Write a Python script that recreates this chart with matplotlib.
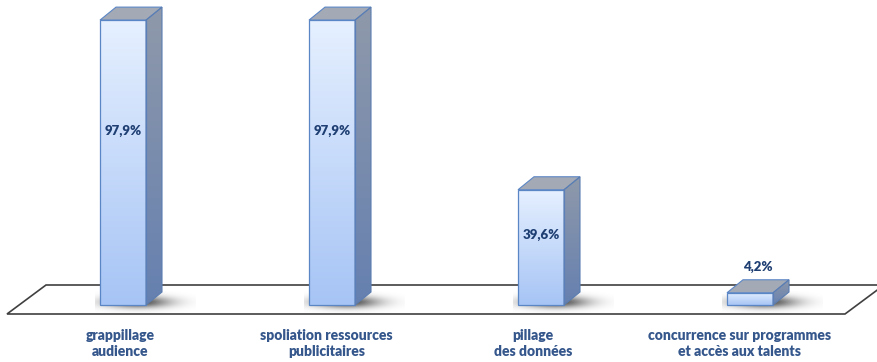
import numpy as np
import matplotlib

matplotlib.use("Agg")
import matplotlib.pyplot as plt
from matplotlib.patches import Polygon
from matplotlib.colors import LinearSegmentedColormap

categories = [
    "grappillage\naudience",
    "spoliation ressources\npublicitaires",
    "pillage\ndes données",
    "concurrence sur programmes\net accès aux talents",
]
values = [97.9, 97.9, 39.6, 4.2]
value_labels = ["97,9%", "97,9%", "39,6%", "4,2%"]

W, H = 877, 362
PX = 2.91          # pixels per percentage point
BASE = 305         # pixel row of the bar bases
BAR_W = 46         # front face width (px)
DX, DY = 16, 13 / PX   # depth offset of the 3D extrusion
TEXT = "#35578C"

front_cmap = LinearSegmentedColormap.from_list("front", ["#A6C4F5", "#E6F0FF"])
side_cmap = LinearSegmentedColormap.from_list("side", ["#6580B0", "#8F99AA"])

fig = plt.figure(figsize=(W / 100, H / 100), dpi=100)
ax = fig.add_axes([0, 0, 1, 1])
ax.set_xlim(0, W)
ax.set_ylim(-(H - BASE) / PX, BASE / PX)
ax.axis("off")

# floor plane
back_y, front_y = 20 / PX, -9 / PX
floor = Polygon([(7, front_y), (845, front_y), (884, back_y), (46, back_y)],
                closed=True, facecolor="white", edgecolor="#404040", lw=1.2, zorder=1)
ax.add_patch(floor)

grad = np.linspace(0, 1, 256).reshape(-1, 1)
centers = [123 + i * 209 for i in range(len(values))]

# soft shadow kernel, darkest just right of the bar foot
sx = np.linspace(-1, 1, 160)
sy = np.linspace(-1, 1, 60)
gx, gy = np.meshgrid(sx, sy)
blob = np.exp(-((gx + 0.15) ** 2) * 2.5 - (gy ** 2) * 3.5)
shadow = np.zeros(blob.shape + (4,))
shadow[..., 3] = blob * 0.7

for i, (xc, v) in enumerate(zip(centers, values)):
    x0, x1 = xc - BAR_W / 2, xc + BAR_W / 2

    ax.imshow(shadow, extent=[x0 - 5, x1 + 50, -8 / PX, 13 / PX],
              aspect="auto", origin="lower", zorder=2, interpolation="bilinear")

    front = Polygon([(x0, 0), (x1, 0), (x1, v), (x0, v)], closed=True,
                    facecolor="none", edgecolor="#5B86C5", lw=0.9, zorder=5)
    side = Polygon([(x1, 0), (x1 + DX, DY), (x1 + DX, v + DY), (x1, v)], closed=True,
                   facecolor="none", edgecolor="#5B7DB0", lw=0.8, zorder=5)
    top = Polygon([(x0, v), (x1, v), (x1 + DX, v + DY), (x0 + DX, v + DY)], closed=True,
                  facecolor="#A4AAB5", edgecolor="#5B86C5", lw=0.8, zorder=4)
    for p in (front, side):
        ax.add_patch(p)
    ax.add_patch(top)

    im = ax.imshow(grad, cmap=front_cmap, extent=[x0, x1, 0, v], aspect="auto",
                   origin="lower", zorder=3)
    im.set_clip_path(front)
    im2 = ax.imshow(grad, cmap=side_cmap, extent=[x1, x1 + DX, 0, v + DY],
                    aspect="auto", origin="lower", zorder=3)
    im2.set_clip_path(side)

    if v > 20:
        ax.text(xc, v * 0.61, value_labels[i], ha="center", va="center",
                fontsize=9.5, fontweight="heavy", color="#1F3F73",
                family="Lato", zorder=6)
    else:
        ax.text(xc + DX / 2, v + DY + 13 / PX, value_labels[i], ha="center",
                va="center", fontsize=9.5, fontweight="heavy", color="#1F3F73",
                family="Lato", zorder=6)

    ax.text(120 + i * 206.5, (BASE - 343.5) / PX, categories[i], ha="center",
            va="center", fontsize=10, fontweight="heavy", color=TEXT,
            family="Lato", linespacing=1.25)

fig.savefig("out.png", dpi=100)
